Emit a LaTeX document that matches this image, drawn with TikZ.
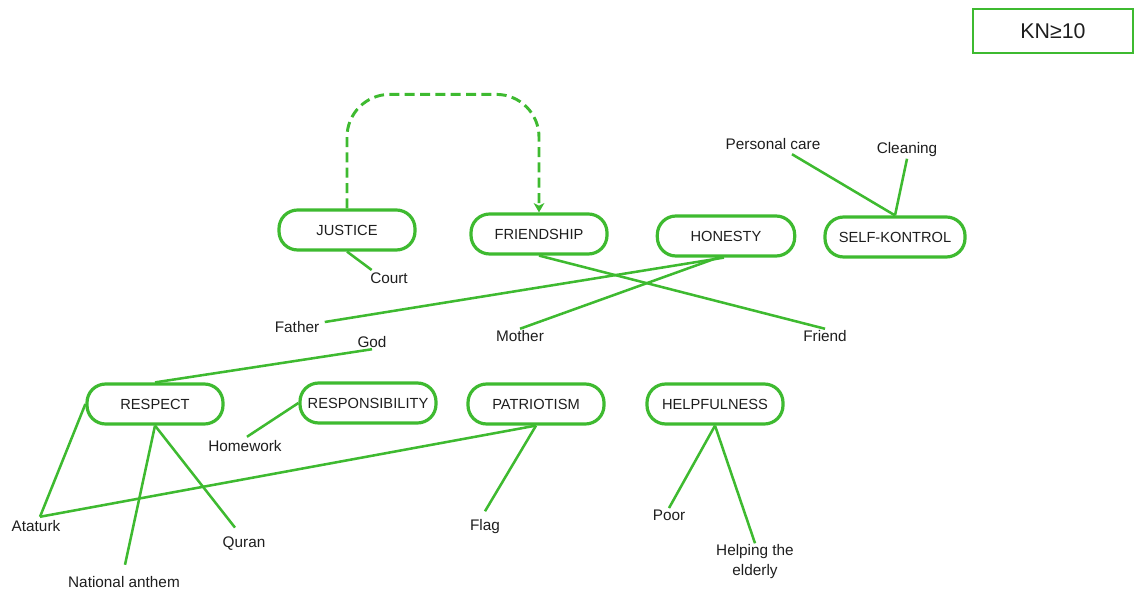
\documentclass[tikz,border=0pt]{standalone}
\usepackage{fontspec}
\setmainfont{Liberation Sans}
\usetikzlibrary{arrows.meta,calc}
\definecolor{gr}{RGB}{62,186,48}
\definecolor{tx}{RGB}{30,30,30}
\begin{document}
\begin{tikzpicture}[x=0.75pt,y=-0.75pt,
  pill/.style={draw=gr, line width=2.4pt, rounded corners=14pt, minimum width=102pt, minimum height=30pt, inner xsep=2pt, text=tx, font=\fontsize{11}{13}\selectfont},
  lbl/.style={text=tx, font=\fontsize{11.5}{15}\selectfont, inner sep=1pt},
  con/.style={draw=gr, line width=1.9pt},
  dashcon/.style={draw=gr, line width=2.2pt, dash pattern=on 7.5pt off 4pt, rounded corners=32pt},
  knbox/.style={draw=gr, line width=1.6pt, minimum width=120pt, minimum height=33pt, text=tx, font=\fontsize{16}{18}\selectfont}
]
\useasboundingbox (0,0) rectangle (1134,591);

% legend box
\node[knbox] (kn) at (1053,31) {KN≥10};

% value nodes
\node[pill] (justice) at (347,230) {JUSTICE};
\node[pill] (friendship) at (539,234) {FRIENDSHIP};
\node[pill, minimum width=103pt] (honesty) at (726,236) {HONESTY};
\node[pill, minimum width=105pt] (selfk) at (895,237) {SELF-KONTROL};
\node[pill] (respect) at (155,404) {RESPECT};
\node[pill] (responsibility) at (368,403) {RESPONSIBILITY};
\node[pill] (patriotism) at (536,404) {PATRIOTISM};
\node[pill] (helpfulness) at (715,404) {HELPFULNESS};

% labels
\node[lbl] (pcare) at (773,144) {Personal care};
\node[lbl] (cleaning) at (907,150) {Cleaning};
\node[lbl] (court) at (389,278) {Court};
\node[lbl] (father) at (297,327) {Father};
\node[lbl] (god) at (372,342) {God};
\node[lbl] (mother) at (520,336) {Mother};
\node[lbl] (friend) at (825,336) {Friend};
\node[lbl] (homework) at (245,446) {Homework};
\node[lbl] (ataturk) at (36,526) {Ataturk};
\node[lbl] (quran) at (244,544) {Quran};
\node[lbl] (anthem) at (124,582) {National anthem};
\node[lbl] (flag) at (485,527) {Flag};
\node[lbl] (poor) at (669,515) {Poor};
\node[lbl, align=center] (helping) at (755,562) {Helping the\\elderly};

% dashed arrow
\draw[dashcon, -{Stealth[length=7pt,width=8pt,inset=2pt]}] (justice.north) -- ++(0,-114) -| (friendship.north);

% connectors
\draw[con] ($(pcare.south)+(19,3)$) -- (selfk.north);
\draw[con] (cleaning.south) -- (selfk.north);
\draw[con] (justice.south) -- ($(court.north west)+(3,-1)$);
\draw[con] (friendship.south) -- (friend.north);
\draw[con] ($(honesty.south)+(-2,0)$) -- ($(father.east)+(4,-5)$);
\draw[con] ($(honesty.south)+(-8,0)$) -- (mother.north);
\draw[con] (god.south) -- (respect.north);
\draw[con] (respect.west) -- ($(ataturk.north)+(4,-2)$) coordinate (atk);
\draw[con] (atk) -- (patriotism.south);
\draw[con] (respect.south) -- ($(anthem.north)+(1,-10)$);
\draw[con] (respect.south) -- ($(quran.north)+(-9,-8)$);
\draw[con] (responsibility.west) -- ($(homework.north)+(2,-2)$);
\draw[con] (patriotism.south) -- ($(flag.north)+(0,-7)$);
\draw[con] (helpfulness.south) -- (poor.north);
\draw[con] (helpfulness.south) -- (helping.north);
\end{tikzpicture}
\end{document}
